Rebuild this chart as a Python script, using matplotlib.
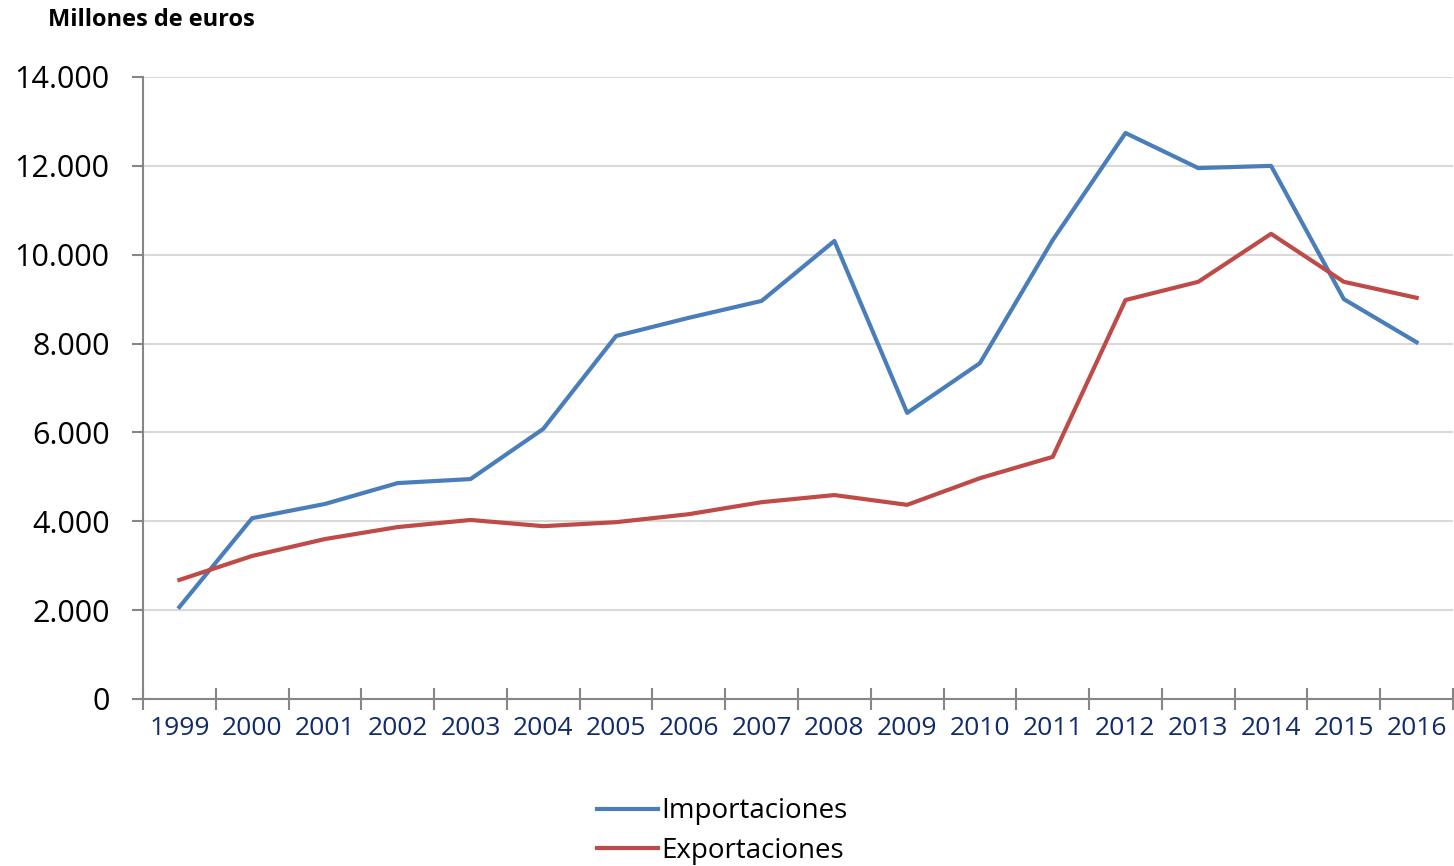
import numpy as np
import matplotlib
matplotlib.use('Agg')
import matplotlib.pyplot as plt
from matplotlib.ticker import FuncFormatter

# Data (millones de euros)
years = [str(y) for y in range(1999, 2017)]
importaciones = [2070, 4070, 4390, 4860, 4950, 6080, 8170, 8580, 8960, 10310,
                 6440, 7560, 10330, 12740, 11950, 12000, 9000, 8030]
exportaciones = [2680, 3220, 3600, 3870, 4030, 3890, 3980, 4160, 4430, 4590,
                 4370, 4970, 5450, 8980, 9390, 10470, 9390, 9030]

blue = '#4A7EBB'
red = '#BE4B48'
navy = '#0F2B6B'
axis_grey = '#868686'

plt.rcParams['font.family'] = ['Open Sans', 'DejaVu Sans']

fig = plt.figure(figsize=(14.54, 8.66), dpi=100)
ax = fig.add_axes([143 / 1454, 1 - 699 / 866, 1310 / 1454, 622 / 866])

x = np.arange(len(years))
ax.plot(x, importaciones, color=blue, lw=3, label='Importaciones')
ax.plot(x, exportaciones, color=red, lw=3, label='Exportaciones')

ax.set_xlim(-0.5, len(years) - 0.5)
ax.set_ylim(0, 14000)
ax.set_yticks(np.arange(0, 14001, 2000))
ax.yaxis.set_major_formatter(FuncFormatter(lambda v, p: f'{int(v):,}'.replace(',', '.')))
ax.grid(axis='y', color='#D9D9D9', lw=1.5)
ax.set_axisbelow(True)

# category labels centered, ticks between categories
ax.set_xticks(x)
ax.set_xticklabels(years, color=navy, fontsize=19)
ax.set_xticks(np.arange(-0.5, len(years)), minor=True)
ax.tick_params(axis='x', which='major', length=0, pad=12)
ax.tick_params(axis='x', which='minor', direction='inout', length=16,
               width=1.5, color=axis_grey)
ax.tick_params(axis='y', direction='out', length=8, width=1.5,
               color=axis_grey, labelsize=22, pad=16)

for side in ['top', 'right']:
    ax.spines[side].set_visible(False)
for side in ['left', 'bottom']:
    ax.spines[side].set_color(axis_grey)
    ax.spines[side].set_linewidth(1.5)

fig.text(48 / 1454, 1 - 20 / 866, 'Millones de euros', fontsize=17,
         fontweight='bold', va='center', ha='left')

fig.legend(loc='center', bbox_to_anchor=(722 / 1454, 1 - 831 / 866),
           frameon=False, fontsize=20, handlelength=2.2, handletextpad=0.1,
           labelspacing=0.4)

fig.savefig('out.png', dpi=100)
